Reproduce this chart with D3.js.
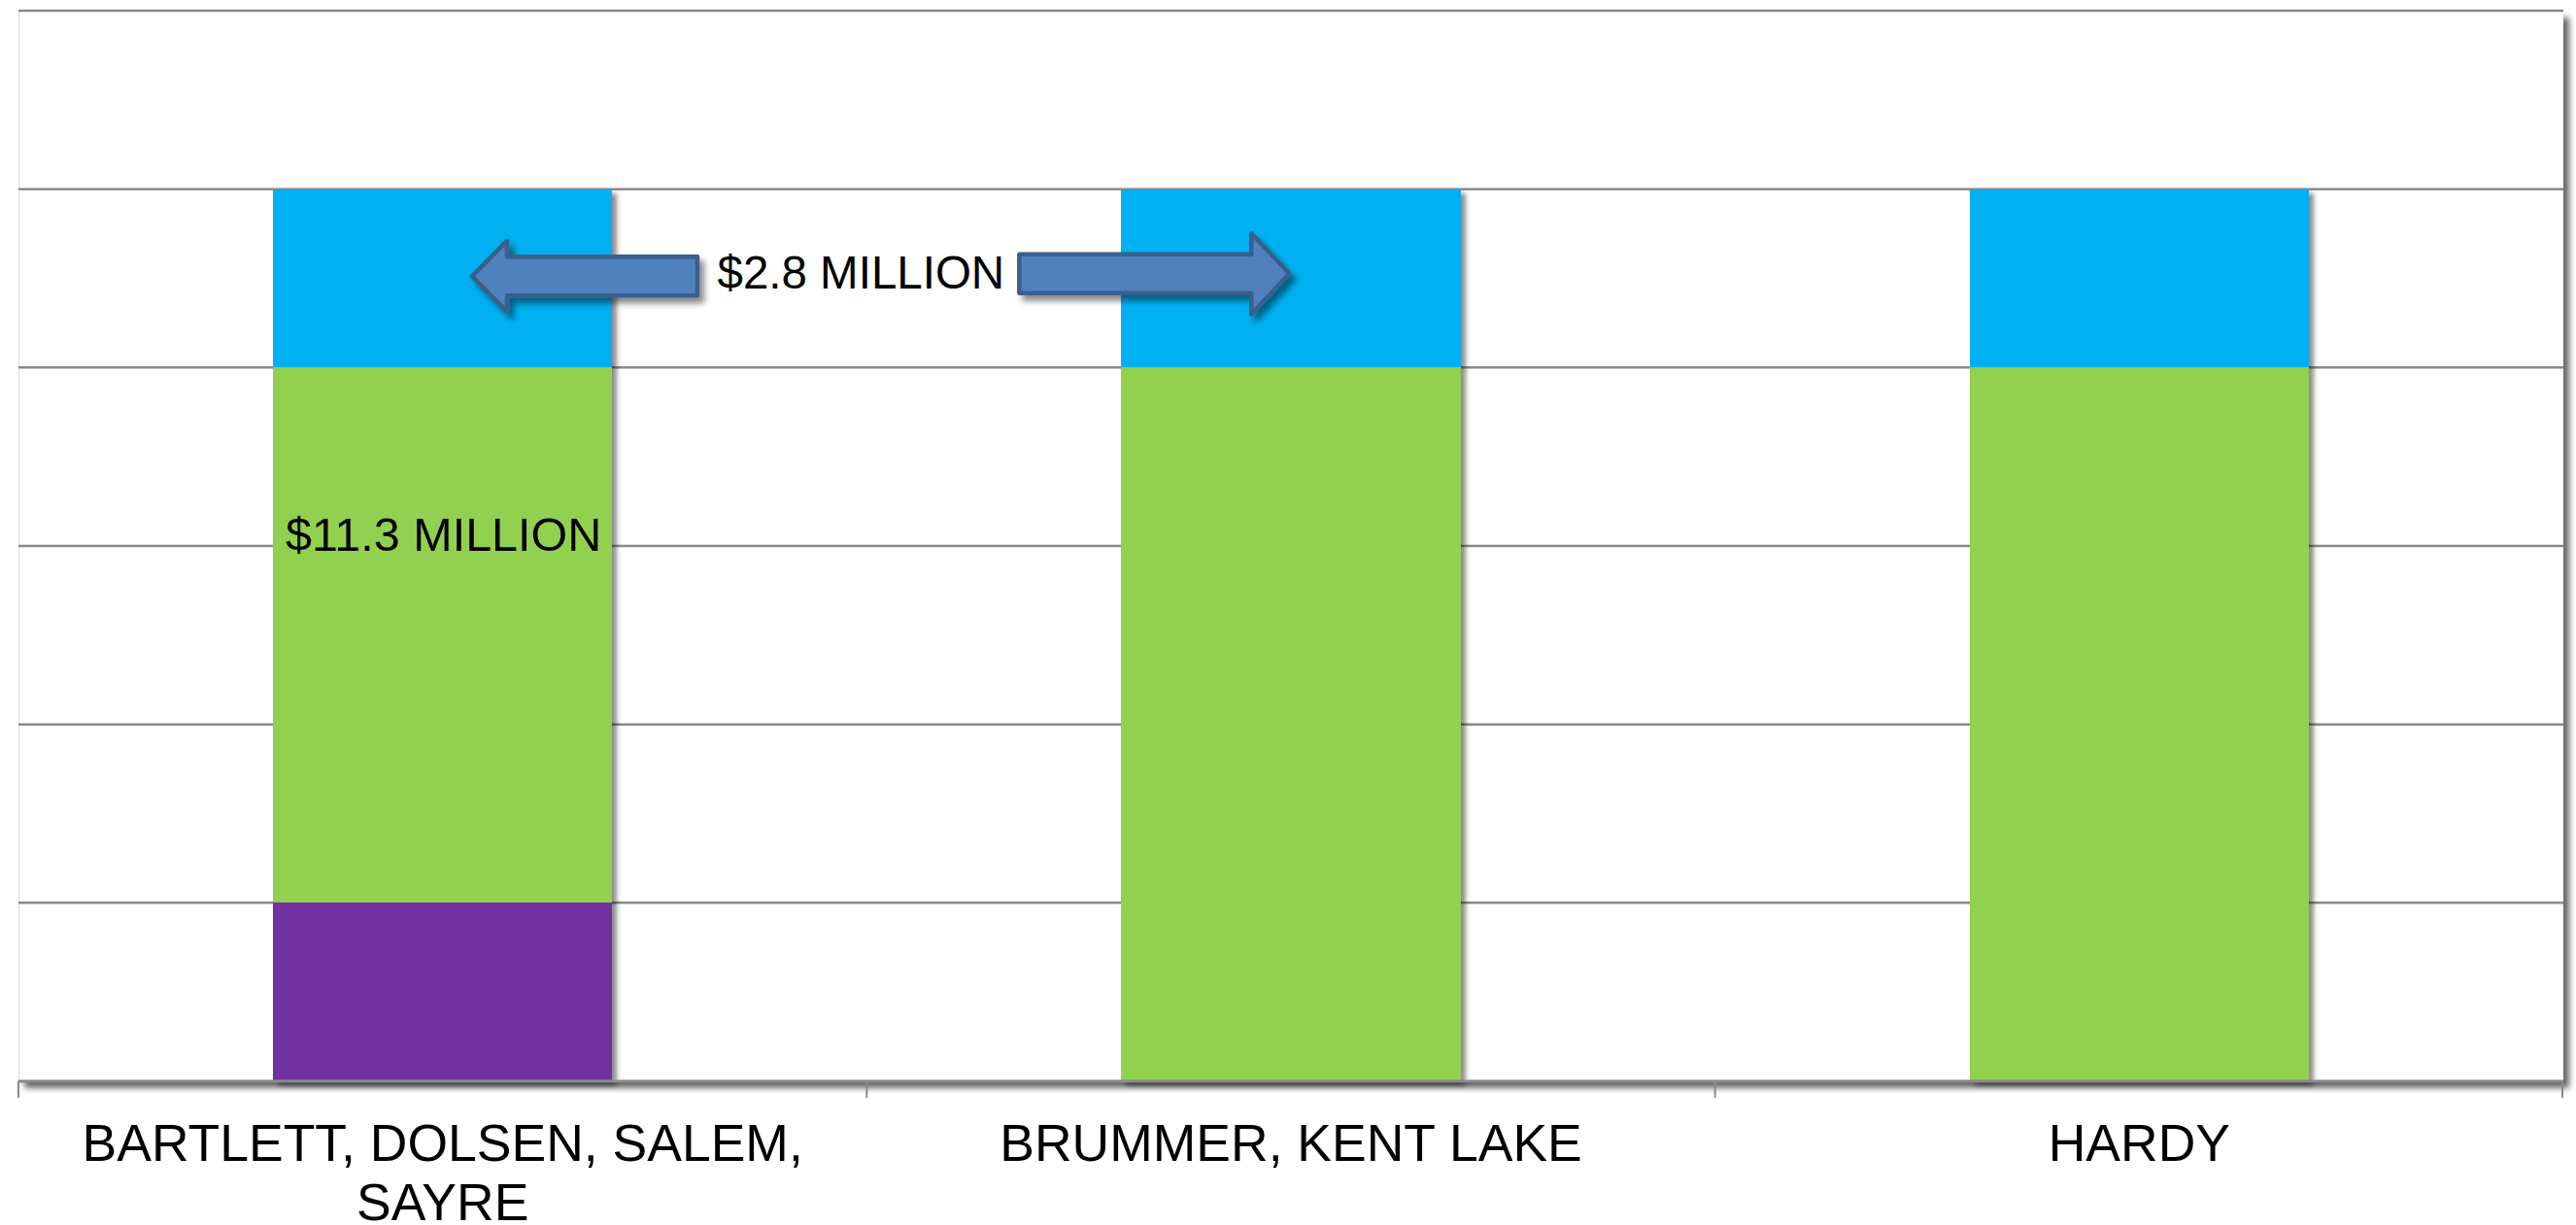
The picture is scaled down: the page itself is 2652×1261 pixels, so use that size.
<!DOCTYPE html>
<html>
<head>
<meta charset="utf-8">
<script src="https://cdn.jsdelivr.net/npm/d3@7"></script>
<style>
  html, body { margin: 0; padding: 0; background: #ffffff; }
  svg { display: block; }
  text { font-family: "Liberation Sans", Arial, Helvetica, sans-serif; fill: #000; }
</style>
</head>
<body>
<svg id="chart" width="2652" height="1261"></svg>
<script>
// ---------------- data ----------------
const categories = ["BARTLETT, DOLSEN, SALEM, SAYRE", "BRUMMER, KENT LAKE", "HARDY"];
const seriesNames = ["base", "mid", "top"];
const baseValues = [1, 0, 0];   // purple
const midValues  = [3, 4, 4];   // green
const topValues  = [1, 1, 1];   // blue
const seriesColors = ["#7030A0", "#92D050", "#00B0F0"];
const yMax = 6;
const dataLabelMid = "$11.3 MILLION";
const dataLabelTop = "$2.8 MILLION";

// ---------------- layout ----------------
const W = 2652, H = 1261;
const plot = { left: 19, right: 2639, top: 11, bottom: 1113 };

const svg = d3.select("#chart");
const defs = svg.append("defs");

function shadow(id, dx, dy, blur, op) {
  const f = defs.append("filter").attr("id", id)
    .attr("x", "-10%").attr("y", "-10%").attr("width", "125%").attr("height", "125%");
  f.append("feGaussianBlur").attr("in", "SourceAlpha").attr("stdDeviation", blur);
  f.append("feOffset").attr("dx", dx).attr("dy", dy).attr("result", "o");
  const ct = f.append("feComponentTransfer").attr("result", "s");
  ct.append("feFuncA").attr("type", "linear").attr("slope", op);
  const m = f.append("feMerge");
  m.append("feMergeNode").attr("in", "s");
  m.append("feMergeNode").attr("in", "SourceGraphic");
}
shadow("plotShadow", 6, 7, 3, 0.6);
shadow("barShadow", 5, 4, 2.5, 0.45);
shadow("arrowShadow", 5, 6, 3, 0.45);

const x = d3.scaleBand().domain(categories)
  .range([plot.left, plot.right]).paddingInner(0.6).paddingOuter(0.3);
const y = d3.scaleLinear().domain([0, yMax]).range([plot.bottom, plot.top]);

// plot area with shadow
svg.append("rect")
  .attr("x", plot.left).attr("y", plot.top)
  .attr("width", plot.right - plot.left).attr("height", plot.bottom - plot.top)
  .attr("fill", "#ffffff").attr("filter", "url(#plotShadow)");
svg.append("line")
  .attr("x1", plot.left + 0.5).attr("x2", plot.left + 0.5)
  .attr("y1", plot.top).attr("y2", plot.bottom)
  .attr("stroke", "#e4e4e4").attr("stroke-width", 1.5);

// gridlines
svg.append("g").selectAll("line")
  .data(y.ticks(yMax).filter(d => d > 0))
  .join("line")
  .attr("x1", plot.left).attr("x2", plot.right)
  .attr("y1", d => y(d)).attr("y2", d => y(d))
  .attr("stroke", "#8a8a8a").attr("stroke-width", 2.5);

// stacked bars
const table = categories.map((c, i) => ({ cat: c, base: baseValues[i], mid: midValues[i], top: topValues[i] }));
const stacked = d3.stack().keys(seriesNames)(table);
const color = d3.scaleOrdinal().domain(seriesNames).range(seriesColors);

const barGroups = svg.append("g").selectAll("g")
  .data(categories)
  .join("g")
  .attr("filter", "url(#barShadow)");

barGroups.each(function (cat, i) {
  d3.select(this).selectAll("rect")
    .data(stacked.map(s => ({ key: s.key, d: s[i] })).filter(o => o.d[1] > o.d[0]))
    .join("rect")
    .attr("x", x(cat))
    .attr("width", x.bandwidth())
    .attr("y", o => y(o.d[1]))
    .attr("height", o => y(o.d[0]) - y(o.d[1]))
    .attr("fill", o => color(o.key))
    .attr("shape-rendering", "crispEdges");
});

// category axis
const axis = svg.append("g");
axis.append("line")
  .attr("x1", plot.left).attr("x2", plot.right)
  .attr("y1", plot.bottom).attr("y2", plot.bottom)
  .attr("stroke", "#8a8a8a").attr("stroke-width", 3);
const boundaries = d3.range(categories.length + 1).map(i => plot.left + i * x.step());
axis.selectAll("line.tick")
  .data(boundaries)
  .join("line").attr("class", "tick")
  .attr("x1", d => Math.min(d, plot.right - 1)).attr("x2", d => Math.min(d, plot.right - 1))
  .attr("y1", plot.bottom).attr("y2", plot.bottom + 17)
  .attr("stroke", "#8a8a8a").attr("stroke-width", 2);

// category labels with wrapping
const catFont = 53.5;
const lineH = 61;
const labels = svg.append("g").selectAll("text")
  .data(categories)
  .join("text")
  .attr("text-anchor", "middle")
  .attr("font-size", catFont)
  .attr("x", d => x(d) + x.bandwidth() / 2)
  .attr("y", 1195);

labels.each(function (d) {
  const t = d3.select(this);
  const words = d.split(" ");
  const maxW = x.step() - 40;
  let line = [];
  let ts = t.append("tspan").attr("x", t.attr("x")).attr("dy", 0);
  words.forEach(w => {
    line.push(w);
    ts.text(line.join(" "));
    if (ts.node().getComputedTextLength() > maxW && line.length > 1) {
      line.pop();
      ts.text(line.join(" "));
      line = [w];
      ts = t.append("tspan").attr("x", t.attr("x")).attr("dy", lineH).text(w);
    }
  });
});

// data label inside green segment of first bar
const firstCat = categories[0];
svg.append("text")
  .attr("x", x(firstCat) + x.bandwidth() / 2 + 1)
  .attr("y", y(baseValues[0] + midValues[0] - 1) + 5)
  .attr("text-anchor", "middle")
  .attr("font-size", 48.5)
  .text(dataLabelMid);

// arrows annotation
const arrowY = y(baseValues[0] + midValues[0] + topValues[0] * 0.52);
const bar1Left = x(categories[0]);
const bar2Left = x(categories[1]);

function arrowPath(tailX, tipX, cy, shaftHalf, headHalf, headLen) {
  const dir = Math.sign(tipX - tailX);
  const hb = tipX - dir * headLen;
  return d3.line()([
    [tailX, cy - shaftHalf], [hb, cy - shaftHalf], [hb, cy - headHalf],
    [tipX, cy], [hb, cy + headHalf], [hb, cy + shaftHalf], [tailX, cy + shaftHalf]
  ]) + "Z";
}

const arrows = svg.append("g");
arrows.append("path")
  .attr("d", arrowPath(bar1Left + 437, bar1Left + 205, arrowY + 1.5, 20, 36.5, 36))
  .attr("fill", "#4F81BD").attr("stroke", "#3B5E8C").attr("stroke-width", 4.5)
  .attr("stroke-linejoin", "round").attr("filter", "url(#arrowShadow)");
arrows.append("path")
  .attr("d", arrowPath(bar2Left - 105, bar2Left + 173, arrowY - 1, 20, 41.5, 39))
  .attr("fill", "#4F81BD").attr("stroke", "#3B5E8C").attr("stroke-width", 4.5)
  .attr("stroke-linejoin", "round").attr("filter", "url(#arrowShadow)");

svg.append("text")
  .attr("x", (bar1Left + x.bandwidth() + bar2Left) / 2 - 6)
  .attr("y", arrowY + 14)
  .attr("text-anchor", "middle")
  .attr("font-size", 47.5)
  .text(dataLabelTop);
</script>
</body>
</html>
